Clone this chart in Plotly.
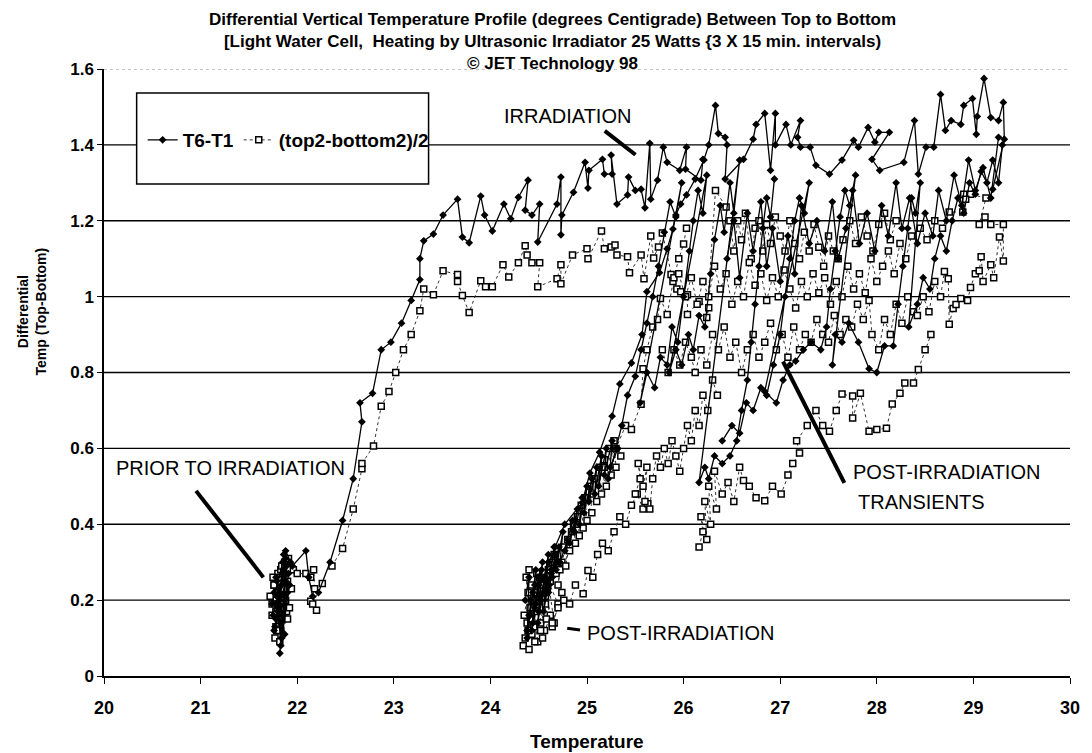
import plotly.graph_objects as go

# ---------------- data: T6-T1 (filled diamonds, solid line) ----------------
t6_prior_x = [21.80,21.84,21.78,21.86,21.82,21.76,21.88,21.80,21.85,21.74,21.90,21.83,21.78,21.87,21.81,21.75,21.89,21.84,21.79,21.86,21.77,21.92,21.83,21.80,21.88,21.85,21.76,21.91,21.82,21.87,21.79,21.93,21.86,21.88,21.95,22.09,22.12,22.16]
t6_prior_y = [0.18,0.24,0.15,0.28,0.20,0.12,0.25,0.17,0.30,0.19,0.22,0.14,0.26,0.11,0.23,0.16,0.29,0.10,0.21,0.27,0.13,0.24,0.08,0.19,0.31,0.16,0.22,0.27,0.06,0.20,0.25,0.30,0.32,0.33,0.29,0.33,0.26,0.21]

t6_run1_x = [22.22,22.34,22.47,22.58,22.67,22.65,22.78,22.87,22.97,23.08,23.18,23.27,23.27,23.31,23.41,23.51,23.66,23.71,23.78,23.90,23.94,24.02,24.14,24.21,24.29,24.39,24.36,24.43,24.51,24.49,24.69,24.73,24.73,24.74,24.86,24.98,25.01,25.02,25.16,25.18,25.26,25.25,25.31,25.42,25.43,25.50,25.56,25.60,25.65,25.66,25.73,25.79,25.83,25.96,26.03,26.02,26.18,26.20]
t6_run1_y = [0.22,0.30,0.41,0.52,0.67,0.72,0.745,0.86,0.88,0.93,0.99,1.045,1.10,1.147,1.165,1.215,1.257,1.157,1.142,1.265,1.215,1.173,1.244,1.205,1.262,1.307,1.228,1.215,1.244,1.144,1.244,1.315,1.163,1.215,1.275,1.354,1.286,1.333,1.362,1.323,1.323,1.373,1.244,1.268,1.315,1.28,1.283,1.234,1.404,1.257,1.307,1.394,1.354,1.333,1.394,1.336,1.307,1.362]

t6_blob_x = [24.36,24.40,24.38,24.44,24.41,24.47,24.43,24.50,24.46,24.54,24.49,24.57,24.52,24.60,24.55,24.63,24.58,24.66,24.61,24.69]
t6_blob_y = [0.20,0.26,0.10,0.22,0.16,0.28,0.12,0.24,0.18,0.30,0.14,0.26,0.20,0.32,0.17,0.28,0.22,0.34,0.24,0.30]

t6_post_x = [24.38,24.42,24.40,24.46,24.44,24.50,24.47,24.53,24.50,24.56,24.52,24.60,24.57,24.63,24.60,24.67,24.64,24.71,24.68,24.75,24.72,24.80,24.77,24.85,24.82,24.90,24.87,24.95,24.92,25.00,24.97,25.05,25.02,25.10,25.08,25.15,25.12,25.20,25.18,25.26,25.24,25.32]
t6_post_y = [0.12,0.20,0.16,0.24,0.14,0.26,0.19,0.28,0.17,0.25,0.21,0.30,0.23,0.27,0.22,0.32,0.26,0.34,0.28,0.38,0.30,0.36,0.33,0.41,0.35,0.44,0.38,0.47,0.40,0.50,0.43,0.52,0.46,0.55,0.48,0.58,0.50,0.60,0.53,0.62,0.55,0.60]

t6_run2_x = [24.55,24.67,24.77,24.95,25.03,25.13,25.26,25.34,25.46,25.57,25.62,25.75,25.83,25.89,25.92,25.97,26.03,26.12,26.21,26.26,26.33,26.36,26.43,26.45,26.43,26.62,26.72,26.75,26.84,26.90,26.95,26.95,27.06,27.11,27.21,27.18,27.21,27.31,27.37,27.51,27.64,27.76,27.81,27.91,27.98,28.02,28.13,27.95,28.03,28.28,28.39,28.43,28.51,28.59,28.66,28.71,28.77,28.87,28.90,28.99,29.03,29.04,29.11,29.18,29.26,29.31,29.32,29.20]
t6_run2_y = [0.26,0.34,0.40,0.457,0.535,0.59,0.685,0.77,0.825,0.90,1.013,1.063,1.126,1.178,1.215,1.244,1.268,1.31,1.36,1.40,1.504,1.43,1.42,1.40,1.31,1.362,1.415,1.454,1.483,1.333,1.483,1.40,1.454,1.40,1.464,1.42,1.394,1.394,1.346,1.323,1.36,1.412,1.394,1.446,1.407,1.433,1.433,1.362,1.333,1.354,1.464,1.323,1.394,1.394,1.533,1.438,1.464,1.454,1.504,1.522,1.428,1.475,1.575,1.472,1.464,1.512,1.415,1.283]

t6_tr1_x = [25.22,25.30,25.36,25.42,25.50,25.56,25.62,25.68,25.74,25.80,25.86,25.92,25.98]
t6_tr1_y = [0.52,0.60,0.66,0.74,0.79,0.86,0.93,1.00,1.08,1.17,1.25,1.21,1.30]
t6_tr2_x = [25.55,25.62,25.70,25.76,25.83,25.88,25.94,26.00,26.06,26.10,26.15,26.20,26.24]
t6_tr2_y = [0.72,0.80,0.76,0.84,0.82,0.92,0.88,1.00,1.12,1.20,1.28,1.22,1.32]
t6_tr3_x = [25.85,25.92,25.98,26.05,26.10,26.16,26.22,26.28,26.32,26.38,26.42,26.48,26.52,26.58]
t6_tr3_y = [0.80,0.86,0.82,0.90,0.86,0.95,0.92,1.06,1.15,1.24,1.17,1.30,1.22,1.36]
t6_tr4_x = [26.16,26.22,26.26,26.32,26.40,26.48,26.55,26.60,26.66,26.70,26.74,26.78,26.82,26.86,26.90,26.94]
t6_tr4_y = [0.51,0.55,0.52,0.58,0.56,0.58,0.62,0.70,0.78,0.88,0.98,1.08,1.18,1.26,1.21,1.31]
t6_tr5_x = [26.40,26.50,26.58,26.65,26.72,26.80,26.86,26.93,27.00,27.05,27.10,27.15,27.20,27.25,27.30]
t6_tr5_y = [0.62,0.66,0.64,0.72,0.70,0.76,0.74,0.82,0.90,1.00,1.10,1.20,1.26,1.22,1.30]
t6_tr6_x = [26.84,26.96,27.03,27.10,27.16,27.24,27.32,27.42,27.48,27.52,27.57,27.62,27.67,27.72,27.78]
t6_tr6_y = [0.75,0.72,0.78,0.82,0.83,0.86,0.88,0.86,0.92,1.02,1.12,1.21,1.28,1.24,1.32]
t6_tr7_x = [27.54,27.57,27.64,27.71,27.81,27.92,28.00,28.08,28.17,28.22,28.27,28.32,28.36,28.40,28.45]
t6_tr7_y = [0.82,0.90,0.88,0.93,0.88,0.81,0.80,0.87,0.87,0.98,1.08,1.18,1.26,1.22,1.30]
t6_tr8_x = [28.33,28.42,28.48,28.55,28.60,28.66,28.72,28.78,28.84,28.90,28.96,29.02,29.08,29.14,29.20,29.26,29.30]
t6_tr8_y = [0.92,0.98,1.05,1.02,1.10,1.16,1.12,1.20,1.26,1.22,1.30,1.27,1.33,1.30,1.36,1.30,1.40]
t6_mid_x = [26.45,26.52,26.58,26.66,26.72,26.80,26.86,26.92,27.00,27.08,27.15,27.22,27.30,27.38,27.46,27.54,27.60,27.68,27.75,27.82,27.90,27.98,28.05,28.12,28.20,28.26,28.34,28.42,28.50,28.58,28.64,28.72,28.80,28.88,28.95,29.02,29.10,29.18,29.26]
t6_mid_y = [1.10,1.20,1.05,1.22,1.12,1.25,1.08,1.18,1.04,1.16,1.06,1.24,1.14,1.20,1.12,1.25,1.10,1.18,1.28,1.14,1.22,1.12,1.24,1.16,1.30,1.18,1.26,1.14,1.22,1.16,1.28,1.20,1.32,1.24,1.36,1.28,1.34,1.26,1.42]

# ---------------- data: (top2-bottom2)/2 (open squares, dotted line) ----------------
sq_prior_x = [21.78,21.82,21.76,21.85,21.80,21.74,21.87,21.79,21.83,21.72,21.89,21.81,21.77,21.86,21.80,21.75,21.90,21.84,21.78,21.88,21.76,21.92,21.82,21.79,21.86,21.84,21.74,21.90,21.81,21.87,21.78,21.94,21.85,21.83,21.96,21.91,22.00,22.09,22.14,22.17,22.18,22.14,22.20,22.16,22.26]
sq_prior_y = [0.20,0.14,0.24,0.18,0.27,0.16,0.22,0.12,0.28,0.21,0.17,0.25,0.10,0.23,0.19,0.26,0.15,0.29,0.13,0.20,0.24,0.18,0.09,0.22,0.27,0.15,0.19,0.25,0.12,0.30,0.17,0.23,0.20,0.26,0.28,0.31,0.27,0.27,0.26,0.28,0.23,0.197,0.173,0.19,0.244]

sq_run1_x = [22.36,22.47,22.58,22.67,22.67,22.79,22.87,22.95,23.02,23.10,23.18,23.27,23.31,23.41,23.51,23.66,23.66,23.71,23.78,23.90,23.95,24.02,24.13,24.19,24.29,24.36,24.38,24.43,24.51,24.49,24.69,24.73,24.73,24.85,25.00,25.01,25.15,25.18,25.25,25.29,25.31,25.42,25.44,25.56,25.59,25.66,25.69,25.74,25.78,25.87,25.89,25.93,25.97,26.04,26.04,26.16,26.26,26.24,26.33,26.44]
sq_run1_y = [0.29,0.336,0.44,0.546,0.56,0.606,0.711,0.75,0.80,0.86,0.90,0.963,1.02,1.005,1.068,1.058,1.04,1.003,0.958,1.042,1.026,1.026,1.084,1.052,1.089,1.134,1.11,1.089,1.089,1.026,1.047,1.084,1.034,1.11,1.126,1.10,1.173,1.126,1.131,1.136,1.11,1.105,1.063,1.11,1.047,1.16,1.102,1.131,1.168,1.058,1.04,1.02,1.013,1.005,0.953,0.987,0.971,0.945,1.28,1.236]

sq_blob_x = [24.35,24.39,24.37,24.43,24.40,24.46,24.42,24.49,24.45,24.52,24.48,24.56,24.51,24.59,24.54,24.62,24.57,24.66,24.60,24.70,24.64,24.74]
sq_blob_y = [0.16,0.22,0.26,0.11,0.28,0.17,0.24,0.09,0.20,0.14,0.27,0.12,0.18,0.23,0.10,0.16,0.21,0.14,0.25,0.19,0.13,0.22]

sq_post_x = [24.34,24.38,24.36,24.41,24.39,24.44,24.42,24.47,24.45,24.50,24.48,24.53,24.51,24.57,24.55,24.60,24.58,24.64,24.62,24.68,24.66,24.72,24.70,24.76,24.74,24.80,24.78,24.84,24.82,24.88,24.86,24.92,24.90,24.96,24.94,25.00,24.98,25.05,25.03,25.10,25.08,25.15,25.13,25.20,25.18,25.25,25.23,25.30,25.28,25.35]
sq_post_y = [0.08,0.14,0.10,0.18,0.12,0.20,0.15,0.22,0.13,0.24,0.18,0.21,0.26,0.19,0.24,0.28,0.22,0.30,0.25,0.27,0.32,0.28,0.24,0.34,0.30,0.36,0.29,0.38,0.33,0.35,0.40,0.37,0.42,0.39,0.45,0.41,0.47,0.43,0.50,0.46,0.52,0.48,0.55,0.50,0.57,0.53,0.60,0.55,0.62,0.58]
sq_post2_x = [24.40,24.46,24.52,24.58,24.64,24.70,24.76,24.82,24.88,24.96,25.01,25.06,25.11,25.16,25.22,25.28,25.34,25.40,25.46,25.52,25.58,25.63]
sq_post2_y = [0.07,0.09,0.12,0.15,0.14,0.18,0.20,0.19,0.24,0.217,0.278,0.26,0.32,0.35,0.33,0.38,0.42,0.40,0.45,0.48,0.44,0.454]

sq_run2_x = [24.90,25.05,25.18,25.30,25.40,25.46,25.56,25.58,25.62,25.68,25.73,25.76,25.83,25.90,25.95,26.00,26.03]
sq_run2_y = [0.40,0.48,0.55,0.60,0.66,0.65,0.716,0.81,0.86,0.92,0.94,0.995,0.953,1.05,1.10,1.139,1.18]

sq_low_x = [25.50,25.55,25.53,25.58,25.62,25.60,25.65,25.68,25.72,25.76,25.80,25.84,25.88,25.92,25.96,26.00,26.04,26.08,26.12,26.16,26.20,26.25,26.30,26.35]
sq_low_y = [0.48,0.52,0.56,0.50,0.55,0.46,0.44,0.52,0.58,0.55,0.60,0.56,0.62,0.58,0.54,0.60,0.66,0.62,0.70,0.66,0.74,0.70,0.78,0.74]

sq_hi_x = [26.48,26.52,26.56,26.60,26.64,26.70,26.74,26.78,26.82,26.86,26.90,26.95,27.00,27.05,27.10,27.15,27.20,27.25,27.30,27.35,27.40,27.45,27.50,27.55,27.60,27.65,27.72,27.78,27.84,27.90,27.96,28.02,28.08,28.14,28.20]
sq_hi_y = [1.20,1.12,1.20,1.15,1.22,1.10,1.18,1.20,1.12,1.19,1.14,1.21,1.16,1.12,1.20,1.14,1.10,1.17,1.12,1.19,1.13,1.08,1.16,1.12,1.10,1.15,1.20,1.14,1.21,1.16,1.12,1.19,1.22,1.15,1.20]

sq_band1_x = [25.95,26.02,26.08,26.14,26.20,26.26,26.32,26.38,26.44,26.50,26.56,26.62,26.68,26.74,26.80,26.86,26.92,26.98,27.04,27.10,27.16,27.22,27.28,27.34,27.40,27.46,27.52,27.58,27.64,27.70,27.76,27.82,27.88,27.94,28.00,28.06,28.12,28.18,28.24,28.30,28.36]
sq_band1_y = [1.06,1.00,1.05,0.98,1.04,1.00,1.08,1.02,1.06,0.98,1.04,1.00,1.09,1.03,1.06,0.99,1.05,1.00,1.07,1.02,0.97,1.04,1.00,1.06,1.01,1.05,0.98,1.04,1.00,1.08,1.02,1.06,1.01,1.10,1.04,1.08,1.12,1.06,1.14,1.10,1.16]

sq_band2_x = [25.78,25.84,25.90,25.96,26.02,26.08,26.12,26.18,26.24,26.30,26.36,26.42,26.48,26.54,26.60,26.66,26.72,26.78,26.84,26.90,26.96,27.02,27.08,27.14,27.20,27.26,27.32,27.38,27.44,27.50,27.56,27.62,27.68,27.74,27.80,27.86,27.92,27.95,28.02,28.08,28.14,28.20,28.26,28.32,28.38]
sq_band2_y = [0.86,0.80,0.86,0.82,0.88,0.84,0.80,0.86,0.82,0.90,0.86,0.92,0.84,0.88,0.80,0.86,0.90,0.84,0.88,0.93,0.86,0.90,0.84,0.92,0.86,0.90,0.88,0.94,0.90,0.88,0.95,0.90,0.94,0.92,0.98,0.94,0.99,0.90,0.86,0.94,0.90,0.98,0.93,1.00,0.96]

sq_arc_x = [26.16,26.20,26.18,26.24,26.22,26.28,26.26,26.34,26.32,26.40,26.46,26.52,26.58,26.62,26.68,26.75,26.84,26.92,27.01,27.08,27.13,27.20,27.17,27.28,27.37,27.44,27.51,27.58,27.64,27.75,27.75,27.83,27.92,28.00,28.10,28.16,28.24,28.29,28.38,28.43,28.50,28.56]
sq_arc_y = [0.34,0.38,0.42,0.36,0.46,0.40,0.50,0.44,0.54,0.48,0.51,0.46,0.55,0.515,0.50,0.47,0.462,0.50,0.48,0.53,0.56,0.588,0.62,0.66,0.70,0.66,0.645,0.70,0.743,0.738,0.68,0.745,0.645,0.65,0.653,0.717,0.745,0.772,0.772,0.808,0.86,0.90]

sq_right_x = [28.42,28.48,28.54,28.60,28.66,28.70,28.74,28.75,28.79,28.82,28.87,28.94,28.97,29.02,29.06,29.08,29.10,29.18,29.21,29.27,29.31,29.31,29.18,29.12,29.06,29.13,28.97,28.90,28.92,28.89,28.75,28.68,28.60,28.52,28.45]
sq_right_y = [0.95,1.00,0.96,1.04,1.00,1.066,1.047,0.927,0.969,0.979,0.995,0.99,1.024,1.06,1.068,1.105,1.04,1.084,1.05,1.157,1.094,1.19,1.19,1.21,1.19,1.26,1.27,1.27,1.257,1.223,1.223,1.18,1.20,1.15,1.18]

y_ticks = [0, 0.2, 0.4, 0.6, 0.8, 1.0, 1.2, 1.4, 1.6]
y_ticktext = ["0", "0.2", "0.4", "0.6", "0.8", "1", "1.2", "1.4", "1.6"]
x_ticks = [20, 21, 22, 23, 24, 25, 26, 27, 28, 29, 30]


def join(segs):
    xs, ys = [], []
    for i, (sx, sy) in enumerate(segs):
        if i:
            xs.append(None)
            ys.append(None)
        xs.extend(sx)
        ys.extend(sy)
    return xs, ys


t6_x, t6_y = join([
    (t6_prior_x, t6_prior_y), (t6_run1_x, t6_run1_y), (t6_blob_x, t6_blob_y),
    (t6_post_x, t6_post_y), (t6_run2_x, t6_run2_y),
    (t6_tr1_x + t6_tr2_x + t6_tr3_x + t6_tr4_x, t6_tr1_y + t6_tr2_y + t6_tr3_y + t6_tr4_y),
    (t6_tr5_x + t6_tr6_x + t6_tr7_x + t6_tr8_x, t6_tr5_y + t6_tr6_y + t6_tr7_y + t6_tr8_y),
    (t6_mid_x, t6_mid_y),
])
sq_x, sq_y = join([
    (sq_prior_x, sq_prior_y), (sq_run1_x, sq_run1_y), (sq_blob_x, sq_blob_y),
    (sq_post_x, sq_post_y), (sq_post2_x, sq_post2_y), (sq_run2_x, sq_run2_y),
    (sq_low_x, sq_low_y), (sq_hi_x, sq_hi_y), (sq_band1_x, sq_band1_y),
    (sq_band2_x, sq_band2_y), (sq_arc_x, sq_arc_y), (sq_right_x, sq_right_y),
])

FONT = "Liberation Sans, Arial, sans-serif"

fig = go.Figure()
fig.add_trace(go.Scatter(
    x=sq_x, y=sq_y, mode="lines+markers", name="(top2-bottom2)/2",
    line=dict(color="#333333", width=1, dash="dot"),
    marker=dict(symbol="square", size=6, color="white", line=dict(color="black", width=1.5)),
    legendrank=2,
))
fig.add_trace(go.Scatter(
    x=t6_x, y=t6_y, mode="lines+markers", name="T6-T1",
    line=dict(color="black", width=1.3),
    marker=dict(symbol="diamond", size=6, color="black"),
    legendrank=1,
))

shapes = []
for v in y_ticks[1:-1]:
    shapes.append(dict(type="line", xref="paper", yref="y", x0=0, x1=1, y0=v, y1=v,
                       line=dict(color="black", width=1.4), layer="below"))
shapes.append(dict(type="line", xref="paper", yref="y", x0=0, x1=1, y0=1.6, y1=1.6,
                   line=dict(color="#888888", width=1, dash="dot"), layer="below"))
# legend box
shapes.append(dict(type="rect", xref="paper", yref="paper", x0=0.0338, x1=0.336, y0=0.8105, y1=0.9605,
                   line=dict(color="black", width=1.5), fillcolor="white", layer="above"))
# pointer lines
for (x0, y0, x1, y1, w) in [(25.184, 1.437, 25.502, 1.374, 4),
                            (20.953, 0.488, 21.650, 0.260, 4),
                            (24.795, 0.126, 24.928, 0.121, 3),
                            (27.029, 0.829, 27.664, 0.509, 4)]:
    shapes.append(dict(type="line", xref="x", yref="y", x0=x0, y0=y0, x1=x1, y1=y1,
                       line=dict(color="black", width=w)))

title_text = ("<b>Differential Vertical Temperature Profile (degrees Centigrade) Between Top to Bottom<br>"
              "[Light Water Cell,  Heating by Ultrasonic Irradiator 25 Watts {3 X 15 min. intervals)<br>"
              "© JET Technology 98</b>")

ann = [dict(text=title_text, xref="paper", yref="paper", x=0.464, y=1.0445,
            showarrow=False, font=dict(family=FONT, size=17, color="black"),
            xanchor="center", yanchor="middle", align="center", borderpad=0)]
ann.append(dict(text="<b>Differential<br>Temp (Top-Bottom)</b>", xref="paper", yref="paper",
                x=-0.0748, y=0.60, textangle=-90, showarrow=False,
                font=dict(family=FONT, size=14, color="black"), xanchor="center", yanchor="middle"))
ann.append(dict(text="<b>Temperature</b>", xref="paper", yref="paper", x=0.50, y=-0.1087,
                showarrow=False, font=dict(family=FONT, size=19, color="black"),
                xanchor="center", yanchor="middle"))
for t, xx, yy, anchor in [("IRRADIATION", 24.795, 1.477, "center"),
                          ("PRIOR TO IRRADIATION", 21.311, 0.548, "center"),
                          ("POST-IRRADIATION", 24.98, 0.113, "left"),
                          ("POST-IRRADIATION", 28.72, 0.538, "center"),
                          ("TRANSIENTS", 28.46, 0.459, "center")]:
    ann.append(dict(text=t, xref="x", yref="y", x=xx, y=yy, showarrow=False,
                    font=dict(family=FONT, size=20, color="black"),
                    xanchor=anchor, yanchor="middle"))

# The page body adds an 8px offset; the figure is sized so that the plot area
# lands at the same pixels as in the reference.
fig.update_layout(
    width=1084, height=745,
    margin=dict(l=96, r=12, t=61, b=77),
    paper_bgcolor="white", plot_bgcolor="white",
    font=dict(family=FONT, color="black"),
    showlegend=True,
    legend=dict(orientation="h", x=0.040, y=0.883, xanchor="left", yanchor="middle",
                bgcolor="rgba(0,0,0,0)", borderwidth=0,
                font=dict(family=FONT, size=19, color="black", weight="bold"),
                itemwidth=30, traceorder="normal"),
    xaxis=dict(range=[20, 30], tickvals=x_ticks, showgrid=False, zeroline=False,
               showline=True, linecolor="black", linewidth=2,
               ticks="outside", ticklen=6, tickwidth=1.2, tickcolor="black",
               ticklabelstandoff=8,
               tickfont=dict(family=FONT, size=18, color="black", weight="bold")),
    yaxis=dict(range=[0, 1.6], tickvals=y_ticks, ticktext=y_ticktext, showgrid=False, zeroline=False,
               showline=True, linecolor="black", linewidth=1.5,
               ticks="outside", ticklen=5, tickwidth=1.2, tickcolor="black",
               tickfont=dict(family=FONT, size=17, color="black", weight="bold")),
    shapes=shapes,
    annotations=ann,
)

fig.write_html("out.html")
